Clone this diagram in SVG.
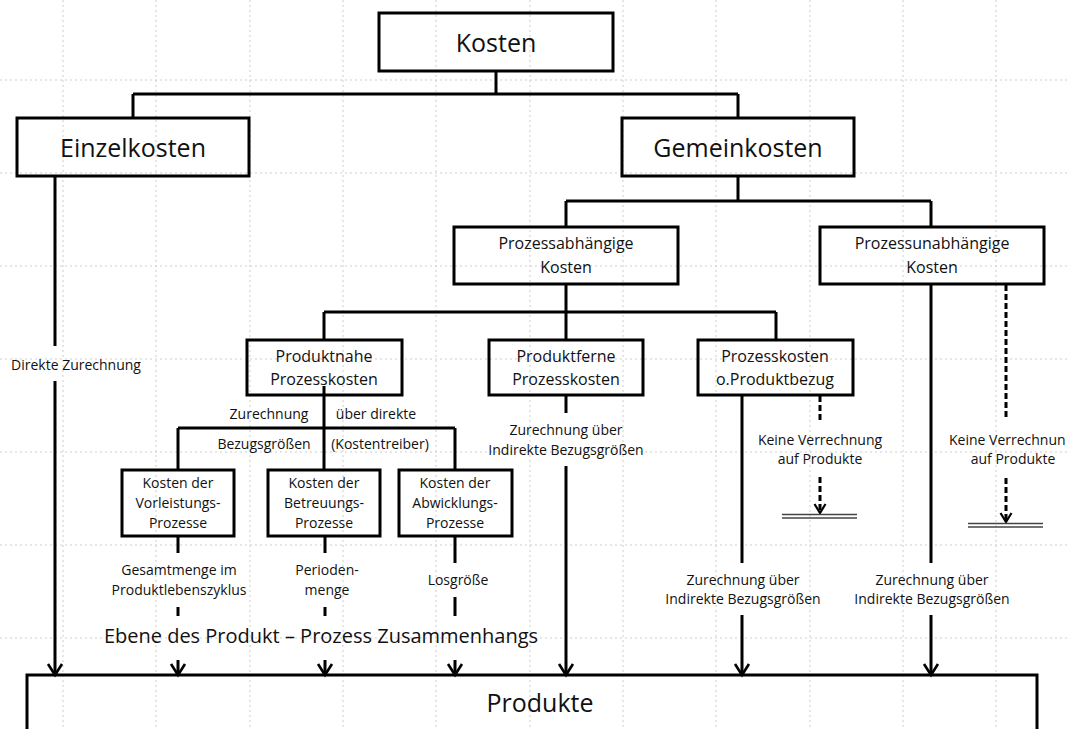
<svg xmlns="http://www.w3.org/2000/svg" width="1069" height="729" viewBox="0 0 1069 729">
<style>
.grid line{stroke:#cdcdcd;stroke-width:1;stroke-dasharray:2 3}
.box{fill:none;stroke:#000;stroke-width:3}
.ln{fill:none;stroke:#000;stroke-width:3}
.dash{stroke-dasharray:6 3}
.dbl{stroke:#444;stroke-width:1.6}
text{font-family:"Open Sans","Liberation Sans",sans-serif;fill:#111;text-anchor:middle}
.t25{font-size:25px}
.t16{font-size:16px}
.t14{font-size:14px}
.t20{font-size:20px}
</style>
<defs>
<marker id="arr" markerUnits="userSpaceOnUse" viewBox="-14 -10 18 20" refX="0" refY="0" markerWidth="18" markerHeight="20" orient="auto">
<path d="M-11,-7 L0,0 L-11,7" fill="none" stroke="#000" stroke-width="2.6"/>
</marker>
<marker id="arrs" markerUnits="userSpaceOnUse" viewBox="-12 -8 14 16" refX="0" refY="0" markerWidth="14" markerHeight="16" orient="auto">
<path d="M-9,-5.5 L0,0 L-9,5.5" fill="none" stroke="#000" stroke-width="2.2"/>
</marker>
</defs>
<rect width="1069" height="729" fill="#fff"/>
<g class="grid" id="grid">
<line x1="63" y1="0" x2="63" y2="729"/>
<line x1="156" y1="0" x2="156" y2="729"/>
<line x1="250" y1="0" x2="250" y2="729"/>
<line x1="343" y1="0" x2="343" y2="729"/>
<line x1="436" y1="0" x2="436" y2="729"/>
<line x1="530" y1="0" x2="530" y2="729"/>
<line x1="623" y1="0" x2="623" y2="729"/>
<line x1="716" y1="0" x2="716" y2="729"/>
<line x1="810" y1="0" x2="810" y2="729"/>
<line x1="903" y1="0" x2="903" y2="729"/>
<line x1="996" y1="0" x2="996" y2="729"/>
<line x1="0" y1="80" x2="1069" y2="80"/>
<line x1="0" y1="173" x2="1069" y2="173"/>
<line x1="0" y1="266" x2="1069" y2="266"/>
<line x1="0" y1="359" x2="1069" y2="359"/>
<line x1="0" y1="452" x2="1069" y2="452"/>
<line x1="0" y1="545" x2="1069" y2="545"/>
<line x1="0" y1="638" x2="1069" y2="638"/>
</g>
<g id="connectors">
<path class="ln" d="M496,71 V94 M133,94 H738 M133,94 V118 M738,94 V118"/>
<path class="ln" d="M738,176 V201 M566,201 H931 M566,201 V227 M931,201 V227"/>
<path class="ln" d="M566,284 V340 M324,312 H776 M324,312 V340 M776,312 V340"/>
<path class="ln" d="M324,386 V470 M178,428 H455 M178,428 V470 M455,428 V470"/>
<path class="ln" d="M178,536 V553 M178,607 V616 M325,536 V553 M325,607 V616 M455,536 V563 M455,597 V616"/>
<path class="ln" d="M178,660 V675" marker-end="url(#arr)"/>
<path class="ln" d="M325,660 V675" marker-end="url(#arr)"/>
<path class="ln" d="M455,660 V675" marker-end="url(#arr)"/>
<path class="ln" d="M55,176 V346"/>
<path class="ln" d="M55,381 V675" marker-end="url(#arr)"/>
<path class="ln" d="M566,395 V413"/>
<path class="ln" d="M566,466 V675" marker-end="url(#arr)"/>
<path class="ln" d="M742,395 V563"/>
<path class="ln" d="M742,615 V675" marker-end="url(#arr)"/>
<path class="ln" d="M931,284 V563"/>
<path class="ln" d="M931,615 V675" marker-end="url(#arr)"/>
<path class="ln dash" d="M820,396 V423"/>
<path class="ln dash" d="M820,477 V513" marker-end="url(#arrs)"/>
<line class="dbl" x1="782" y1="514.5" x2="857" y2="514.5"/>
<line class="dbl" x1="782" y1="518" x2="857" y2="518"/>
<path class="ln dash" d="M1006,285 V420"/>
<path class="ln dash" d="M1006,478 V522" marker-end="url(#arrs)"/>
<line class="dbl" x1="968" y1="523.5" x2="1043" y2="523.5"/>
<line class="dbl" x1="968" y1="527" x2="1043" y2="527"/>
</g>
<g id="labels">
<text class="t14" x="76" y="370">Direkte Zurechnung</text>
<text class="t14" x="269" y="419">Zurechnung</text>
<text class="t14" x="376" y="419">über direkte</text>
<text class="t14" x="264" y="449">Bezugsgrößen</text>
<text class="t14" x="380" y="449">(Kostentreiber)</text>
<text class="t14" x="566" y="435">Zurechnung über</text>
<text class="t14" x="566" y="455">Indirekte Bezugsgrößen</text>
<text class="t14" x="820" y="445">Keine Verrechnung</text>
<text class="t14" x="820" y="464">auf Produkte</text>
<text class="t14" x="949" y="445" style="text-anchor:start">Keine Verrechnun</text>
<text class="t14" x="1013" y="464">auf Produkte</text>
<text class="t14" x="179" y="575">Gesamtmenge im</text>
<text class="t14" x="179" y="595">Produktlebenszyklus</text>
<text class="t14" x="327" y="575">Perioden-</text>
<text class="t14" x="327" y="595">menge</text>
<text class="t14" x="458" y="585">Losgröße</text>
<text class="t14" x="743" y="585">Zurechnung über</text>
<text class="t14" x="743" y="604">Indirekte Bezugsgrößen</text>
<text class="t14" x="932" y="585">Zurechnung über</text>
<text class="t14" x="932" y="604">Indirekte Bezugsgrößen</text>
<text class="t20" x="321" y="643">Ebene des Produkt – Prozess Zusammenhangs</text>
</g>
<g id="n-kosten"><rect class="box" x="379" y="13" width="234" height="58"/><text class="t25" x="496" y="52">Kosten</text></g>
<g id="n-einzelkosten"><rect class="box" x="17" y="118" width="232" height="58"/><text class="t25" x="133" y="157">Einzelkosten</text></g>
<g id="n-gemeinkosten"><rect class="box" x="622" y="118" width="232" height="58"/><text class="t25" x="738" y="157">Gemeinkosten</text></g>
<g id="n-prozessabh"><rect class="box" x="454" y="227" width="224" height="57"/><text class="t16" x="566" y="249">Prozessabhängige</text><text class="t16" x="566" y="273">Kosten</text></g>
<g id="n-prozessunabh"><rect class="box" x="820" y="227" width="224" height="57"/><text class="t16" x="932" y="249">Prozessunabhängige</text><text class="t16" x="932" y="273">Kosten</text></g>
<g id="n-produktnahe"><rect class="box" x="247" y="340" width="155" height="55"/><text class="t16" x="324" y="362">Produktnahe</text><text class="t16" x="324" y="385">Prozesskosten</text></g>
<g id="n-produktferne"><rect class="box" x="489" y="340" width="154" height="55"/><text class="t16" x="566" y="362">Produktferne</text><text class="t16" x="566" y="385">Prozesskosten</text></g>
<g id="n-ohnebezug"><rect class="box" x="698" y="340" width="155" height="55"/><text class="t16" x="775" y="362">Prozesskosten</text><text class="t16" x="775" y="385">o.Produktbezug</text></g>
<g id="n-vorleistung"><rect class="box" x="122" y="470" width="112" height="66"/><text class="t14" x="178" y="488">Kosten der</text><text class="t14" x="178" y="508">Vorleistungs-</text><text class="t14" x="178" y="528">Prozesse</text></g>
<g id="n-betreuung"><rect class="box" x="268" y="470" width="112" height="66"/><text class="t14" x="324" y="488">Kosten der</text><text class="t14" x="324" y="508">Betreuungs-</text><text class="t14" x="324" y="528">Prozesse</text></g>
<g id="n-abwicklung"><rect class="box" x="399" y="470" width="113" height="66"/><text class="t14" x="455" y="488">Kosten der</text><text class="t14" x="455" y="508">Abwicklungs-</text><text class="t14" x="455" y="528">Prozesse</text></g>
<g id="n-produkte"><rect class="box" x="27" y="675" width="1010" height="70"/><text class="t25" x="540" y="712">Produkte</text></g>
</svg>
